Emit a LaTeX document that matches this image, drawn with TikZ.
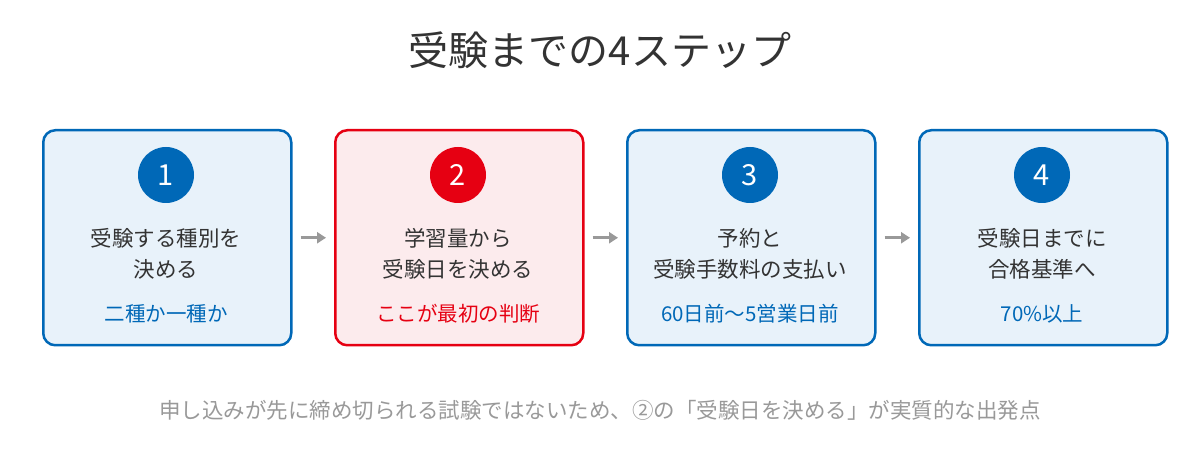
\documentclass[tikz,border=0pt]{standalone}
\usepackage{fontspec}
\newfontfamily\cjk{Noto Sans CJK JP}
\usetikzlibrary{arrows.meta}
\definecolor{bl}{HTML}{0068B7}
\definecolor{blf}{HTML}{E8F2FA}
\definecolor{rd}{HTML}{E60012}
\definecolor{rdf}{HTML}{FCEBED}
\definecolor{tx}{HTML}{333333}
\definecolor{gr}{HTML}{999999}
\begin{document}
\begin{tikzpicture}[x=1pt,y=-1pt,
 box/.style={draw=#1,line width=2.5pt,rounded corners=12pt,minimum width=248pt,minimum height=215pt,anchor=north west},
 num/.style={circle,fill=#1,minimum size=56pt,inner sep=0,text=white,font=\cjk\fontsize{29}{29}\selectfont},
 body/.style={align=center,text=tx,font=\cjk\fontsize{21.5}{31}\selectfont},
 sub/.style={text=#1,font=\cjk\fontsize{20.5}{22}\selectfont},
 arr/.style={draw=gr,line width=2.5pt,-{Triangle[length=9pt,width=11pt]}}]
\useasboundingbox (0,0) rectangle (1200,470);
\fill[white] (0,0) rectangle (1200,470);
\node[text=tx,font=\cjk\fontsize{40}{40}\selectfont] (title) at (600,50) {受験までの4ステップ};
\foreach \i/\x/\c/\f/\a/\b/\s in {1/42/bl/blf/受験する種別を/決める/二種か一種か,
 2/334/rd/rdf/学習量から/受験日を決める/ここが最初の判断,
 3/626/bl/blf/予約と/受験手数料の支払い/60日前〜5営業日前,
 4/918/bl/blf/受験日までに/合格基準へ/70\%以上}{
 \node[box=\c,fill=\f] (b\i) at (\x,129) {};
 \node[num=\c] (n\i) at (\x+124,175) {\i};
 \node[body] (t\i) at (\x+124,254) {\a\\\b};
 \node[sub=\c] (s\i) at (\x+124,314) {\s};
}
\foreach \i/\j in {1/2,2/3,3/4}{
 \draw[arr] ([xshift=8pt]b\i.east) -- ([xshift=-8pt]b\j.west);
}
\node[text=gr,font=\cjk\fontsize{21.5}{24}\selectfont] (foot) at (600,410) {申し込みが先に締め切られる試験ではないため、②の「受験日を決める」が実質的な出発点};
\end{tikzpicture}
\end{document}
